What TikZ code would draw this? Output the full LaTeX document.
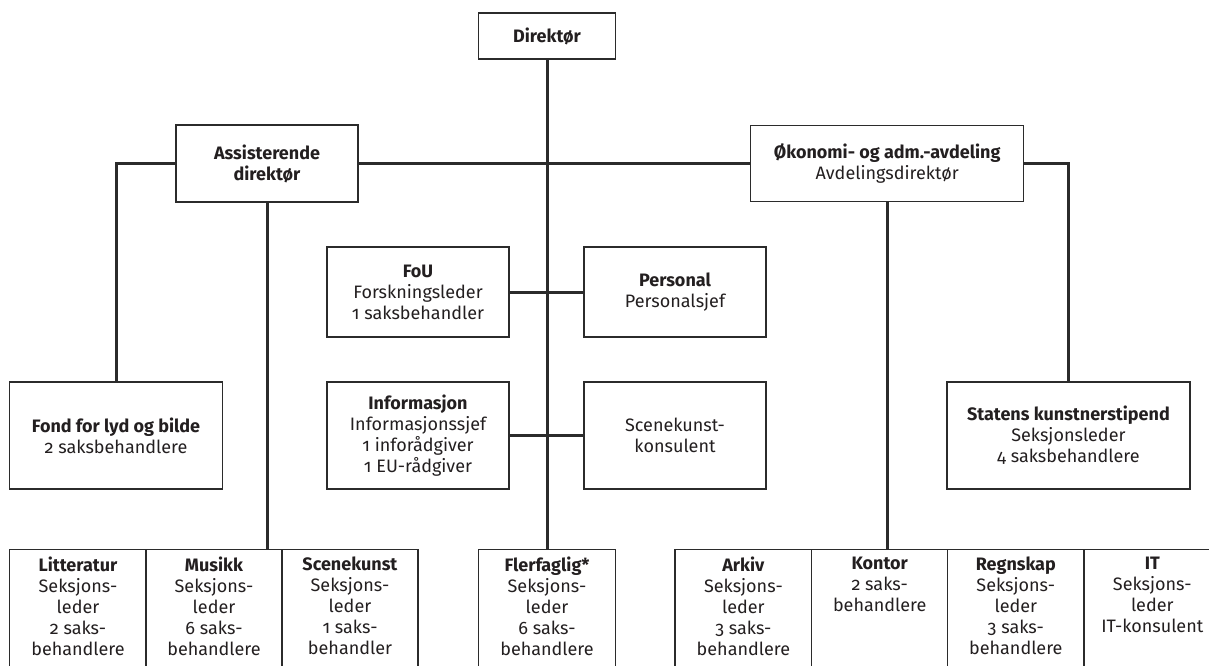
\documentclass[tikz,border=0pt]{standalone}
\usepackage{fontspec}
\setmainfont{Fira Sans}[Numbers=OldStyle]
\usetikzlibrary{backgrounds}
\definecolor{ink}{HTML}{231F20}
\definecolor{rule}{HTML}{2B2B2B}

\begin{document}
\begin{tikzpicture}[%
x=1pt, y=-1pt,
box/.style 2 args={draw=rule, line width=1.3pt, fill=white, align=center, inner sep=0pt,
  text=ink, font=\fontsize{18}{21}\selectfont, minimum width=#1, minimum height=#2},
cell/.style={draw=rule, line width=1.3pt, fill=white, anchor=north, inner sep=0pt,
  minimum width=#1, minimum height=150},
celltext/.style={anchor=north, align=center, inner sep=0pt, yshift=-7.5pt,
  text=ink, font=\fontsize{18}{21}\selectfont},
link/.style={draw=rule, line width=3pt},
]
\useasboundingbox (0,0) rectangle (1209,665);
\clip (0,0) rectangle (1209,665);
%% top;
\node[box={137}{46}] (dir) at (547,36) {\textbf{Direktør}};
\node[box={182}{77}] (assist) at (267,163.5) {\textbf{Assisterende}\\\textbf{direktør}};
\node[box={273}{76}] (oko) at (887.2,163.5) {\textbf{Økonomi- og adm.-avdeling}\\Avdelingsdirektør};
%% staff;
\node[box={182}{90}] (fou) at (418,292) {\textbf{FoU}\\Forskningsleder\\1 saksbehandler};
\node[box={182}{90}] (personal) at (675,292) {\textbf{Personal}\\Personalsjef};
\node[box={182}{107}] (info) at (418,435.5) {\textbf{Informasjon}\\Informasjonssjef\\1 inforådgiver\\1 EU-rådgiver};
\node[box={182}{107}] (konsulent) at (675,435.5) {Scenekunst-\\konsulent};
\node[box={212.5}{107}] (fond) at (116,435.5) {\textbf{Fond for lyd og bilde}\\2 saksbehandlere};
\node[box={243}{107}] (statens) at (1068.4,435.5) {\textbf{Statens kunstnerstipend}\\Seksjonsleder\\4 saksbehandlere};
%% sections;
\node[cell=136.5] (litt) at (78,549) {};
\node[cell=136] (musikk) at (214,549) {};
\node[cell=136] (scene) at (350,549) {};
\node[cell=137] (fler) at (547,549) {};
\node[cell=136.7] (arkiv) at (743.4,549) {};
\node[cell=136] (kontor) at (879.7,549) {};
\node[cell=136.3] (regnskap) at (1015.8,549) {};
\node[cell=136.7] (it) at (1152.3,549) {};
%% label;
\node[celltext] at (litt.north) {\textbf{Litteratur}\\Seksjons-\\leder\\2 saks-\\behandlere};
\node[celltext] at (musikk.north) {\textbf{Musikk}\\Seksjons-\\leder\\6 saks-\\behandlere};
\node[celltext] at (scene.north) {\textbf{Scenekunst}\\Seksjons-\\leder\\1 saks-\\behandler};
\node[celltext] at (fler.north) {\textbf{Flerfaglig*}\\Seksjons-\\leder\\6 saks-\\behandlere};
\node[celltext] at (arkiv.north) {\textbf{Arkiv}\\Seksjons-\\leder\\3 saks-\\behandlere};
\node[celltext] at (kontor.north) {\textbf{Kontor}\\2 saks-\\behandlere};
\node[celltext] at (regnskap.north) {\textbf{Regnskap}\\Seksjons-\\leder\\3 saks-\\behandlere};
\node[celltext] at (it.north) {\textbf{IT}\\Seksjons-\\leder\\IT-konsulent};
%% connectors;
\begin{scope}[on background layer]
\draw[link] (dir.south) -- (fler.north);
\draw[link] (assist.east) -- (oko.west);
\draw[link] (assist.west) -| (fond.north);
\draw[link] (oko.east) -| (statens.north);
\draw[link] (assist.south) -- (assist.south |- musikk.north);
\draw[link] (oko.south) -- (oko.south |- kontor.north);
\draw[link] (fou.east) -- (personal.west);
\draw[link] (info.east) -- (konsulent.west);
\end{scope}
\end{tikzpicture}
\end{document}
